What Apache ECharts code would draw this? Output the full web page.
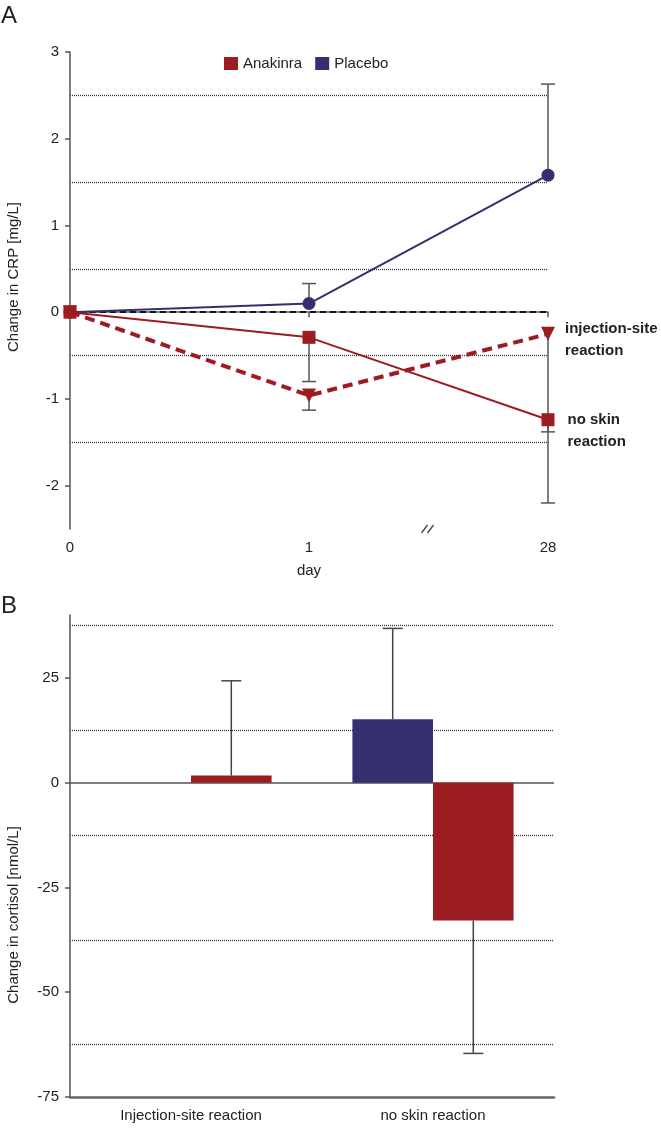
<!DOCTYPE html>
<html><head><meta charset="utf-8">
<script src="https://cdn.jsdelivr.net/npm/echarts@6/dist/echarts.min.js"></script>
<style>html,body{margin:0;padding:0;background:#fff}#c{width:661px;height:1128px}</style>
</head><body><div id="c"></div>
<script>
// ---- Panel A data: change in CRP [mg/L] ----
const days = ['0', '1', '28'];
const placeboCRP = [0, 0.1, 1.58];
const placeboCRPErr = [null, 0.33, 2.63];
const anakNoSkinCRP = [0, -0.29, -1.24];
const anakNoSkinErr = [null, -0.80, -1.38];
const anakInjCRP = [0, -0.96, -0.25];
const anakInjErr = [null, -1.13, -2.20];
const crpTicks = [-2, -1, 0, 1, 2, 3];
const crpGrid = [2.5, 1.5, 0.5, -0.5, -1.5];

// ---- Panel B data: change in cortisol [nmol/L] ----
const groups = ['Injection-site reaction', 'no skin reaction'];
const placeboCortisol = ['-', 15.1];
const placeboCortisolErr = [null, 36.8];
const anakCortisol = [1.7, -32.9];
const anakCortisolErr = [24.3, -64.6];
const cortTicks = [-75, -50, -25, 0, 25];
const cortGrid = [37.5, 12.5, -12.5, -37.5, -62.5];

const RED = '#9d1c22', BLUE = '#34306f', ERR = '#555';
const FONT = "'Liberation Sans', Arial, sans-serif";

const pts = (vals) => vals.map((v, i) => [i, v]);
const errData = [];
[[placeboCRP, placeboCRPErr], [anakNoSkinCRP, anakNoSkinErr], [anakInjCRP, anakInjErr]].forEach(([v, e]) => {
  v.forEach((y, i) => { if (e[i] != null) errData.push([i, y, e[i]]); });
});
const errBData = [];
[[placeboCortisol, placeboCortisolErr, 0], [anakCortisol, anakCortisolErr, 1]].forEach(([v, e, s]) => {
  v.forEach((y, i) => { if (e[i] != null) errBData.push([i, y, e[i], s]); });
});
const BAR_CAT_GAP = 0.334;

function lastLabel(vals, text, offY, dist) {
  return vals.map((v, i) => i === vals.length - 1 ? {
    value: [i, v],
    label: { show: true, position: 'right', distance: dist, formatter: text, fontFamily: FONT,
      fontWeight: 'bold', fontSize: 15, lineHeight: 22, color: '#222', offset: [0, offY] }
  } : [i, v]);
}

const gridLineStyle = { type: [1, 1], color: '#333', width: 1.3 };
const axisTxt = { fontFamily: FONT, fontSize: 15, color: '#222' };
const chart = echarts.init(document.getElementById('c'), null, { renderer: 'canvas' });
chart.setOption({
  animation: false,
  textStyle: { fontFamily: FONT },
  legend: {
    left: 224, top: 56, padding: 0, itemWidth: 14, itemHeight: 13, itemGap: 13,
    textStyle: { fontFamily: FONT, fontSize: 15, color: '#222' },
    data: [{ name: 'Anakinra', icon: 'rect', itemStyle: { color: RED } },
           { name: 'Placebo', icon: 'rect', itemStyle: { color: BLUE } }],
    selectedMode: false
  },
  grid: [
    { left: 70, top: 52, width: 478, height: 477 },
    { left: 70, top: 615, width: 484, height: 482 }
  ],
  xAxis: [
    { type: 'value', gridIndex: 0, min: 0, max: days.length - 1,
      axisLine: { lineStyle: { color: ERR, width: 1.5 } },
      axisTick: { customValues: days.map((d, i) => i), length: 5, lineStyle: { color: ERR, width: 1.5 } },
      axisLabel: { customValues: days.map((d, i) => i), formatter: v => days[v], margin: 11, ...axisTxt },
      splitLine: { show: false },
      name: 'day', nameLocation: 'middle', nameGap: 34, nameTextStyle: axisTxt },
    { type: 'category', gridIndex: 1, data: groups,
      axisLine: { onZero: false, lineStyle: { color: '#666', width: 2.5 } },
      axisTick: { show: false },
      axisLabel: { margin: 11, ...axisTxt }, splitLine: { show: false } }
  ],
  yAxis: [
    { type: 'value', gridIndex: 0, min: -2.5, max: 3, interval: 0.5,
      axisLine: { show: true, lineStyle: { color: ERR, width: 1.5 } },
      axisTick: { show: true, customValues: crpTicks, length: 5, lineStyle: { color: ERR, width: 1.5 } },
      axisLabel: { customValues: crpTicks, margin: 11, ...axisTxt },
      splitLine: { show: false } },
    { type: 'value', gridIndex: 1, min: -75, max: 40, interval: 25,
      axisLine: { show: true, lineStyle: { color: ERR, width: 1.5 } },
      axisTick: { show: true, customValues: cortTicks, length: 5, lineStyle: { color: ERR, width: 1.5 } },
      axisLabel: { customValues: cortTicks, margin: 11, ...axisTxt },
      splitLine: { show: false } }
  ],
  series: [
    { type: 'line', name: 'gridA', xAxisIndex: 0, yAxisIndex: 0, data: [], z: 1, silent: true,
      markLine: { z: 1, silent: true, symbol: 'none', label: { show: false }, animation: false,
        lineStyle: gridLineStyle,
        data: crpGrid.map(v => ({ yAxis: v })).concat([{ yAxis: 0, lineStyle: { type: [6, 4], color: '#111', width: 2 } }]) } },
    { type: 'custom', name: 'errA', xAxisIndex: 0, yAxisIndex: 0, z: 2, silent: true,
      data: errData,
      renderItem: (params, api) => {
        const p0 = api.coord([api.value(0), api.value(1)]);
        const p1 = api.coord([api.value(0), api.value(2)]);
        const st = { stroke: ERR, lineWidth: 1.5 };
        return { type: 'group', children: [
          { type: 'line', shape: { x1: p0[0], y1: p0[1], x2: p1[0], y2: p1[1] }, style: st },
          { type: 'line', shape: { x1: p1[0] - 7, y1: p1[1], x2: p1[0] + 7, y2: p1[1] }, style: st }
        ] };
      } },
    { type: 'custom', name: 'break', xAxisIndex: 0, yAxisIndex: 0, z: 5, silent: true,
      data: [[(days.length - 2 + days.length - 1) / 2, -2.5]],
      renderItem: (params, api) => {
        const p = api.coord([api.value(0), api.value(1)]);
        const st = { stroke: '#444', lineWidth: 1.3 };
        return { type: 'group', children: [
          { type: 'line', shape: { x1: p[0] - 7, y1: p[1] + 4, x2: p[0] - 1, y2: p[1] - 4 }, style: st },
          { type: 'line', shape: { x1: p[0] - 1, y1: p[1] + 4, x2: p[0] + 5, y2: p[1] - 4 }, style: st }
        ] };
      } },
    { type: 'line', name: 'Placebo', xAxisIndex: 0, yAxisIndex: 0, z: 3,
      data: pts(placeboCRP), symbol: 'circle', symbolSize: 13,
      itemStyle: { color: BLUE }, lineStyle: { color: BLUE, width: 2 } },
    { type: 'line', name: 'Anakinra', xAxisIndex: 0, yAxisIndex: 0, z: 4,
      data: lastLabel(anakNoSkinCRP, 'no skin\nreaction', 11, 13), symbol: 'rect', symbolSize: 13,
      itemStyle: { color: RED }, lineStyle: { color: RED, width: 2 } },
    { type: 'line', name: 'Anakinra (injection-site reaction)', xAxisIndex: 0, yAxisIndex: 0, z: 4,
      data: lastLabel(anakInjCRP, 'injection-site\nreaction', 6, 10), symbol: 'triangle', symbolRotate: 180, symbolSize: 14,
      itemStyle: { color: RED }, lineStyle: { color: RED, width: 4, type: [10, 6] } },

    { type: 'line', name: 'gridB', xAxisIndex: 1, yAxisIndex: 1, data: [], z: 1, silent: true,
      markLine: { z: 1, silent: true, symbol: 'none', label: { show: false }, animation: false,
        lineStyle: gridLineStyle,
        data: cortGrid.map(v => ({ yAxis: v })).concat([{ yAxis: 0, lineStyle: { type: 'solid', color: '#555', width: 1.5 } }]) } },
    { type: 'bar', name: 'Placebo', xAxisIndex: 1, yAxisIndex: 1, z: 3, data: placeboCortisol,
      itemStyle: { color: BLUE }, barGap: '0%', barCategoryGap: (BAR_CAT_GAP * 100) + '%' },
    { type: 'bar', name: 'Anakinra', xAxisIndex: 1, yAxisIndex: 1, z: 3, data: anakCortisol,
      itemStyle: { color: RED }, barGap: '0%', barCategoryGap: (BAR_CAT_GAP * 100) + '%' },
    { type: 'custom', name: 'errB', xAxisIndex: 1, yAxisIndex: 1, z: 4, silent: true,
      data: errBData,
      renderItem: (params, api) => {
        const band = api.size([1, 0])[0];
        const barW = band * (1 - BAR_CAT_GAP) / 2;
        const off = (api.value(3) === 0 ? -0.5 : 0.5) * barW;
        const p0 = api.coord([api.value(0), api.value(1)]);
        const p1 = api.coord([api.value(0), api.value(2)]);
        const x = p0[0] + off;
        const st = { stroke: '#444', lineWidth: 1.5 };
        return { type: 'group', children: [
          { type: 'line', shape: { x1: x, y1: p0[1], x2: x, y2: p1[1] }, style: st },
          { type: 'line', shape: { x1: x - 10, y1: p1[1], x2: x + 10, y2: p1[1] }, style: st }
        ] };
      } }
  ],
  graphic: [
    { type: 'text', x: 1, y: 16, style: { text: 'A', fontFamily: FONT, fontSize: 24, fill: '#222', verticalAlign: 'middle' } },
    { type: 'text', x: 1, y: 606, style: { text: 'B', fontFamily: FONT, fontSize: 24, fill: '#222', verticalAlign: 'middle' } },
    { type: 'text', x: 14, y: 277, rotation: Math.PI / 2,
      style: { text: 'Change in CRP [mg/L]', fontFamily: FONT, fontSize: 15, fill: '#222', align: 'center', verticalAlign: 'middle' } },
    { type: 'text', x: 14, y: 915, rotation: Math.PI / 2,
      style: { text: 'Change in cortisol [nmol/L]', fontFamily: FONT, fontSize: 15, fill: '#222', align: 'center', verticalAlign: 'middle' } }
  ]
});
</script></body></html>
